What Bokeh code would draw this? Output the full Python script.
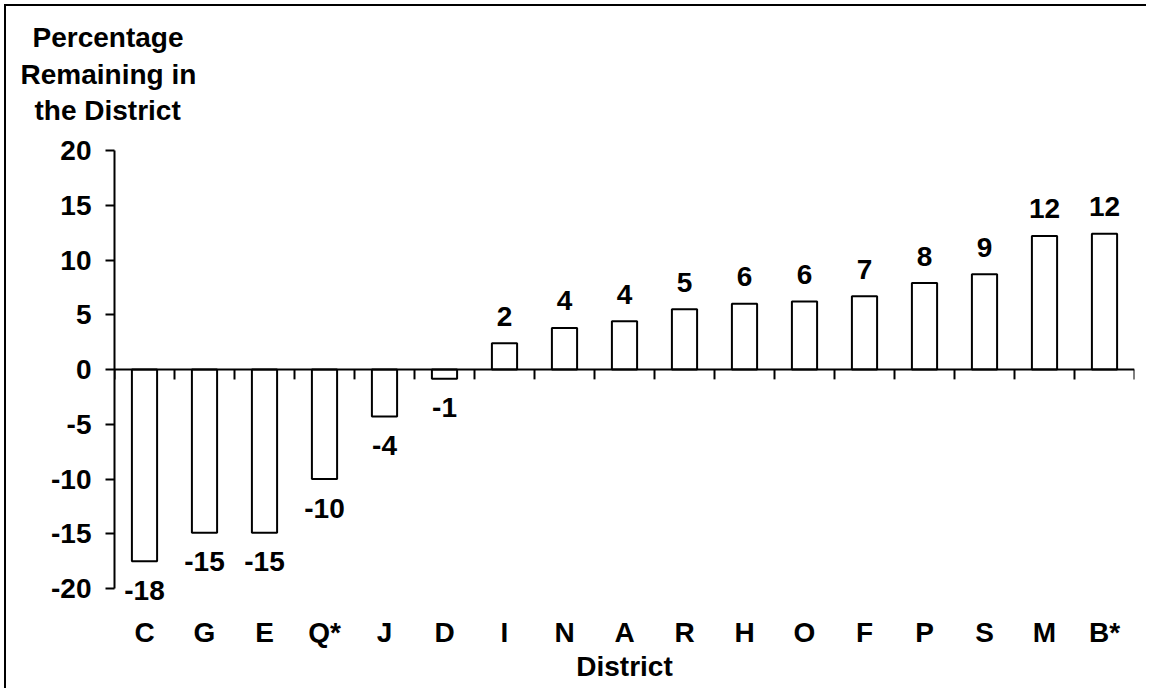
from bokeh.plotting import figure
from bokeh.models import Range1d, FixedTicker, ColumnDataSource, Span, Title, InlineStyleSheet
from bokeh.core.properties import value
from bokeh.embed import file_html
from bokeh.resources import INLINE

# ---- data ----
districts = ["C", "G", "E", "Q*", "J", "D", "I", "N", "A", "R", "H", "O", "F", "P", "S", "M", "B*"]
pct_remaining = [-17.5, -14.9, -14.9, -10.0, -4.3, -0.85, 2.4, 3.8, 4.4, 5.5, 6.0, 6.2, 6.7, 7.9, 8.7, 12.2, 12.4]
value_labels = ["-18", "-15", "-15", "-10", "-4", "-1", "2", "4", "4", "5", "6", "6", "7", "8", "9", "12", "12"]
y_ticks = [-20, -15, -10, -5, 0, 5, 10, 15, 20]
y_tick_labels = ["-20", "-15", "-10", "-5", "0", "5", "10", "15", "20"]
y_title_lines = ["Percentage", "Remaining in", "the District"]
x_title = "District"

FONT = "Liberation Sans"
FS = "28px"
n = len(districts)
centers = [i + 0.5 for i in range(n)]
boundaries = list(range(n + 1))

p = figure(title=None, frame_width=1020, frame_height=456,
           x_range=Range1d(0, n), y_range=Range1d(-21.64, 20),
           output_backend="svg", toolbar_location=None,
           min_border_left=114, min_border_right=12,
           min_border_top=150, min_border_bottom=82,
           background_fill_color="white", border_fill_color=None)
p.outline_line_color = None
p.xgrid.visible = False
p.ygrid.visible = False

src = ColumnDataSource(dict(
    x=centers, top=pct_remaining, label=value_labels,
    yoff=[-27 if v >= 0 else 29 for v in pct_remaining],
))

p.vbar(x="x", top="top", bottom=0, width=0.42, source=src,
       fill_color="white", line_color="black", line_width=2)

# zero line with downward category-boundary ticks
p.add_layout(Span(location=0, dimension="width", line_color="black", line_width=2))
p.segment(x0=boundaries, y0=[0] * len(boundaries), x1=boundaries, y1=[-0.9] * len(boundaries),
          line_color="black", line_width=2)

p.text(x="x", y="top", text="label", y_offset="yoff", source=src,
       text_align="center", text_baseline="middle",
       text_font=value(FONT), text_font_style="bold", text_font_size=FS, text_color="black")

# y axis
ya = p.yaxis[0]
ya.ticker = FixedTicker(ticks=y_ticks)
ya.major_label_overrides = {t: s for t, s in zip(y_ticks, y_tick_labels)}
ya.bounds = (-20, 20)
ya.axis_line_width = 2
ya.axis_line_color = "black"
ya.major_tick_line_width = 2
ya.major_tick_line_color = "black"
ya.major_tick_out = 9
ya.major_tick_in = 0
ya.minor_tick_line_color = None
ya.major_label_standoff = 14
ya.major_label_text_font = FONT
ya.major_label_text_font_style = "bold"
ya.major_label_text_font_size = FS
ya.major_label_text_color = "black"

# x axis (labels only)
xa = p.xaxis[0]
xa.ticker = FixedTicker(ticks=centers)
xa.major_label_overrides = {c: d for c, d in zip(centers, districts)}
xa.axis_line_color = None
xa.major_tick_line_color = None
xa.minor_tick_line_color = None
xa.major_tick_out = 0
xa.major_tick_in = 0
xa.major_label_standoff = 10
xa.major_label_text_font = FONT
xa.major_label_text_font_style = "bold"
xa.major_label_text_font_size = FS
xa.major_label_text_color = "black"
xa.axis_label = x_title
xa.axis_label_standoff = 0
xa.axis_label_text_font = FONT
xa.axis_label_text_font_style = "bold"
xa.axis_label_text_font_size = FS
xa.axis_label_text_color = "black"

# y title (horizontal, top-left), first added sits closest to the frame
title_offsets = {"Percentage": -82, "Remaining in": -94, "the District": -80}
title_standoffs = {"Percentage": 4, "Remaining in": 4, "the District": 3}
title_pad_bottom = {"Percentage": 0, "Remaining in": 0, "the District": 23}
for line in reversed(y_title_lines):
    p.add_layout(Title(text=line, align="left", offset=title_offsets[line],
                       standoff=title_standoffs[line],
                       padding=dict(left=0, right=0, top=0, bottom=title_pad_bottom[line]),
                       text_font=FONT, text_font_style="bold", text_font_size=FS,
                       text_color="black"), "above")

# outer frame: left and top rules of the picture
p.stylesheets = [InlineStyleSheet(css=":host { background: #fff; "
                                      "box-shadow: inset 4px 4px 0 0 #fff, inset 6px 6px 0 0 #000; }")]

open("out.html", "w").write(file_html(p, INLINE))
